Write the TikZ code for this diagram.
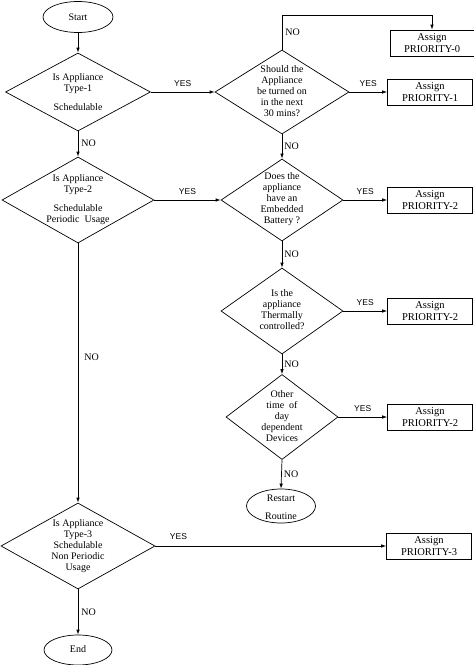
\documentclass[tikz,border=0pt]{standalone}
\usepackage{fontspec}
\setmainfont{Liberation Serif}
\newfontfamily\yesfont{Liberation Sans}
\usetikzlibrary{shapes.geometric,arrows.meta}
\begin{document}
\begin{tikzpicture}[x=1pt,y=-1pt,
  line width=0.7pt,
  dia/.style={draw,diamond,inner sep=0pt,minimum width=#1},
  oval/.style={draw,ellipse,inner sep=0pt},
  pbox/.style={draw,rectangle,minimum width=85pt,minimum height=26pt,inner sep=0pt,
    align=center,font=\fontsize{10.5}{11.5}\selectfont},
  txt/.style={align=center,inner sep=0pt,font=\fontsize{10}{11}\selectfont},
  arr/.style={-{Latex[length=5pt,width=3.5pt]}},
  yeslbl/.style={font=\yesfont\fontsize{8.5}{9}\selectfont,inner sep=0pt},
  nolbl/.style={font=\fontsize{10}{11}\selectfont,inner sep=0pt,anchor=west}
]
\useasboundingbox (0,0) rectangle (474,665);
% terminals
\node[oval,minimum width=70pt,minimum height=31pt] (start) at (78,17) {};
\node[txt] (starttxt) at (78,17) {Start};
\node[oval,minimum width=69pt,minimum height=34pt] (restart) at (281,506) {};
\node[txt] (restarttxt) at (281,507) {Restart\\[7pt]Routine};
\node[oval,minimum width=68pt,minimum height=30pt] (end) at (78,650) {};
\node[txt] (endtxt) at (78,649) {End};
% decisions
\node[dia=145pt,minimum height=78pt] (d1) at (78,92) {};
\node[txt] (d1t) at (78,92) {Is Appliance\\Type-1\\[8pt]Schedulable};
\node[dia=152pt,minimum height=86pt] (d2) at (78,200) {};
\node[txt] (d2t) at (78,200) {Is Appliance\\Type-2\\[8pt]Schedulable\\Periodic\ \ Usage};
\node[dia=134pt,minimum height=84pt] (d3) at (282,92) {};
\node[txt] (d3t) at (282,91) {Should the\\Appliance\\be turned on\\in the next\\30 mins?};
\node[dia=122pt,minimum height=82pt] (d4) at (282,200) {};
\node[txt] (d4t) at (282,199) {Does the\\appliance\\have an\\Embedded\\Battery ?};
\node[dia=122pt,minimum height=86pt] (d5) at (282,311) {};
\node[txt] (d5t) at (282,310) {Is the\\appliance\\Thermally\\controlled?};
\node[dia=112pt,minimum height=85pt] (d6) at (282,417) {};
\node[txt] (d6t) at (282,416) {Other\\time\ \ of\\day\\dependent\\Devices};
\node[dia=154pt,minimum height=86pt] (d7) at (78,546) {};
\node[txt] (d7t) at (78,546) {Is Appliance\\Type-3\\Schedulable\\Non Periodic\\Usage};
% outcome boxes
\node[pbox,minimum width=84pt] (p0) at (432,43) {Assign\\PRIORITY-0};
\node[pbox] (p1) at (430,92) {Assign\\PRIORITY-1};
\node[pbox] (p2a) at (430,200) {Assign\\PRIORITY-2};
\node[pbox] (p2b) at (430,311) {Assign\\PRIORITY-2};
\node[pbox] (p2c) at (430,417) {Assign\\PRIORITY-2};
\node[pbox] (p3) at (429,546) {Assign\\PRIORITY-3};
\coordinate (c0) at (282,15);
% connectors
\draw[arr] (start.south) -- (d1.north);
\draw[arr] (d1.east) -- node[yeslbl,above=5pt] (y1) {YES} (d3.west);
\draw[arr] (d1.south) -- (d2.north) node[nolbl,pos=0.45,xshift=3pt] (n1) {NO};
\draw[arr] (d2.east) -- node[yeslbl,above=5pt] (y2) {YES} (d4.west);
\draw[arr] (d2.south) -- (d7.north) node[nolbl,pos=0.44,xshift=6pt] (n2) {NO};
\draw[arr] (d3.north) -- (c0) -| (p0.north);
\node[nolbl] (n3) at (285,32) {NO};
\draw[arr] (d3.east) -- node[yeslbl,above=5pt] (y3) {YES} (p1.west);
\draw[arr] (d3.south) -- (d4.north) node[nolbl,midway,xshift=2pt] (n4) {NO};
\draw[arr] (d4.east) -- node[yeslbl,above=5pt] (y4) {YES} (p2a.west);
\draw[arr] (d4.south) -- (d5.north) node[nolbl,midway,xshift=2pt] (n5) {NO};
\draw[arr] (d5.east) -- node[yeslbl,above=5pt] (y5) {YES} (p2b.west);
\draw[arr] (d5.south) -- (d6.north) node[nolbl,midway,xshift=2pt] (n6) {NO};
\draw[arr] (d6.east) -- node[yeslbl,above=5pt] (y6) {YES} (p2c.west);
\draw[arr] (d6.south) -- (restart.north) node[nolbl,pos=0.5,xshift=2pt] (n7) {NO};
\draw[arr] (d7.east) -- node[yeslbl,above=6pt,pos=0.1] (y7) {YES} (p3.west);
\draw[arr] (d7.south) -- (end.north) node[nolbl,midway,xshift=3pt] (n8) {NO};
\end{tikzpicture}
\end{document}
